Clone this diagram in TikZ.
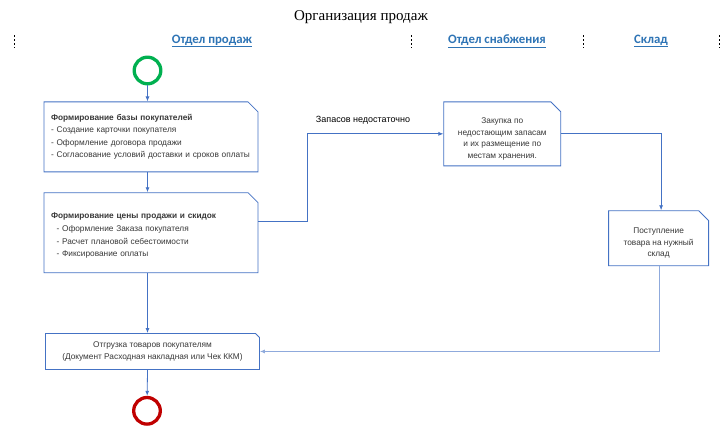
\documentclass[tikz,border=0pt]{standalone}
\usepackage{fontspec}
\setmainfont{Liberation Sans}
\newfontfamily\titlefont{Liberation Serif}
\newfontfamily\lanefont{Carlito}
\usetikzlibrary{arrows.meta,positioning,shapes.misc}

\definecolor{lineblue}{RGB}{68,114,196}
\definecolor{paleblue}{RGB}{143,170,220}
\definecolor{laneblue}{RGB}{46,116,181}
\definecolor{startgreen}{RGB}{0,176,80}
\definecolor{endred}{RGB}{192,0,0}
\definecolor{textgray}{RGB}{56,56,56}

\begin{document}
\begin{tikzpicture}[->,>={Latex[length=5pt,width=4pt]},x=1pt,y=-1pt,line width=0.8pt,draw=lineblue]
\tikzstyle{task}=[shape=chamfered rectangle,chamfered rectangle corners=north east,chamfered rectangle xsep=5pt,chamfered rectangle ysep=5pt,draw=lineblue,fill=white,text=textgray,inner sep=0pt,font=\fontsize{8.3}{12.6}\selectfont]
\tikzstyle{event}=[shape=circle,minimum size=26.6pt,inner sep=0pt,line width=3.3pt]
\tikzstyle{lane}=[text=laneblue,font=\lanefont\bfseries\fontsize{12.8}{14}\selectfont]
\useasboundingbox (0,0) rectangle (721,432);

\node[font=\titlefont\fontsize{15}{17}\selectfont] (T) at (361,17) {Организация продаж};
\node[lane] (H1) at (212,41) {\underline{Отдел продаж}};
\node[lane] (H2) at (497,41) {\underline{Отдел снабжения}};
\node[lane] (H3) at (651,41) {\underline{Склад}};
\foreach \x in {14,411,583,719}
  \draw[-,black,line width=0.6pt,dash pattern=on 2pt off 2pt] (\x,35) -- (\x,48);

\node[event,draw=startgreen] (S) at (147.5,70.5) {};
\node[task,minimum width=214pt,minimum height=70pt,text width=200pt,align=left] (B1) [below=16pt of S,xshift=3.5pt]
  {\textbf{Формирование базы покупателей}\\- Создание карточки покупателя\\- Оформление договора продажи\\- Согласование условий доставки и сроков оплаты};
\node[task,minimum width=214pt,minimum height=80pt,text width=200pt,align=left] (B2) [below=20pt of B1]
  {\rule{0pt}{12pt}\textbf{Формирование цены продажи и скидок}\\\ \ - Оформление Заказа покупателя\\\ \ - Расчет плановой себестоимости\\\ \ - Фиксирование оплаты};
\node[task,minimum width=214pt,minimum height=36pt,align=center,chamfered rectangle xsep=2pt,chamfered rectangle ysep=2pt,font=\fontsize{8.3}{12}\selectfont] (B5) [below=60pt of B2,xshift=1.5pt]
  {Отгрузка товаров покупателям\\(Документ Расходная накладная или Чек ККМ)};
\node[event,draw=endred] (E) [below=26pt of B5,xshift=-5.5pt] {};
\node[task,minimum width=117pt,minimum height=64pt,align=center,font=\fontsize{8.3}{11.4}\selectfont] (B3) [right=185pt of B1,yshift=3pt]
  {\rule{0pt}{16pt}Закупка по\\недостающим запасам\\и их размещение по\\местам хранения.};
\node[task,minimum width=100pt,minimum height=55pt,align=center,font=\fontsize{8.3}{11.5}\selectfont] (B4) [below right=44pt and 47pt of B3]
  {\rule{0pt}{16pt}Поступление\\товара на нужный\\склад};
\node[text=black,font=\fontsize{9}{10}\selectfont] (L) at (363,120) {Запасов недостаточно};

\draw (S) -- (S |- B1.north);
\draw (S |- B1.south) -- (S |- B2.north);
\draw (S |- B2.south) -- (S |- B5.north);
\draw (S |- B5.south) -- (E);
\draw ([yshift=11pt]B2.east) -- ++(49,0) |- (B3.west);
\draw (B3.east) -| ([xshift=2.5pt]B4.north);
\draw[draw=paleblue] ([xshift=1pt]B4.south) |- (B5.east);
\end{tikzpicture}
\end{document}
